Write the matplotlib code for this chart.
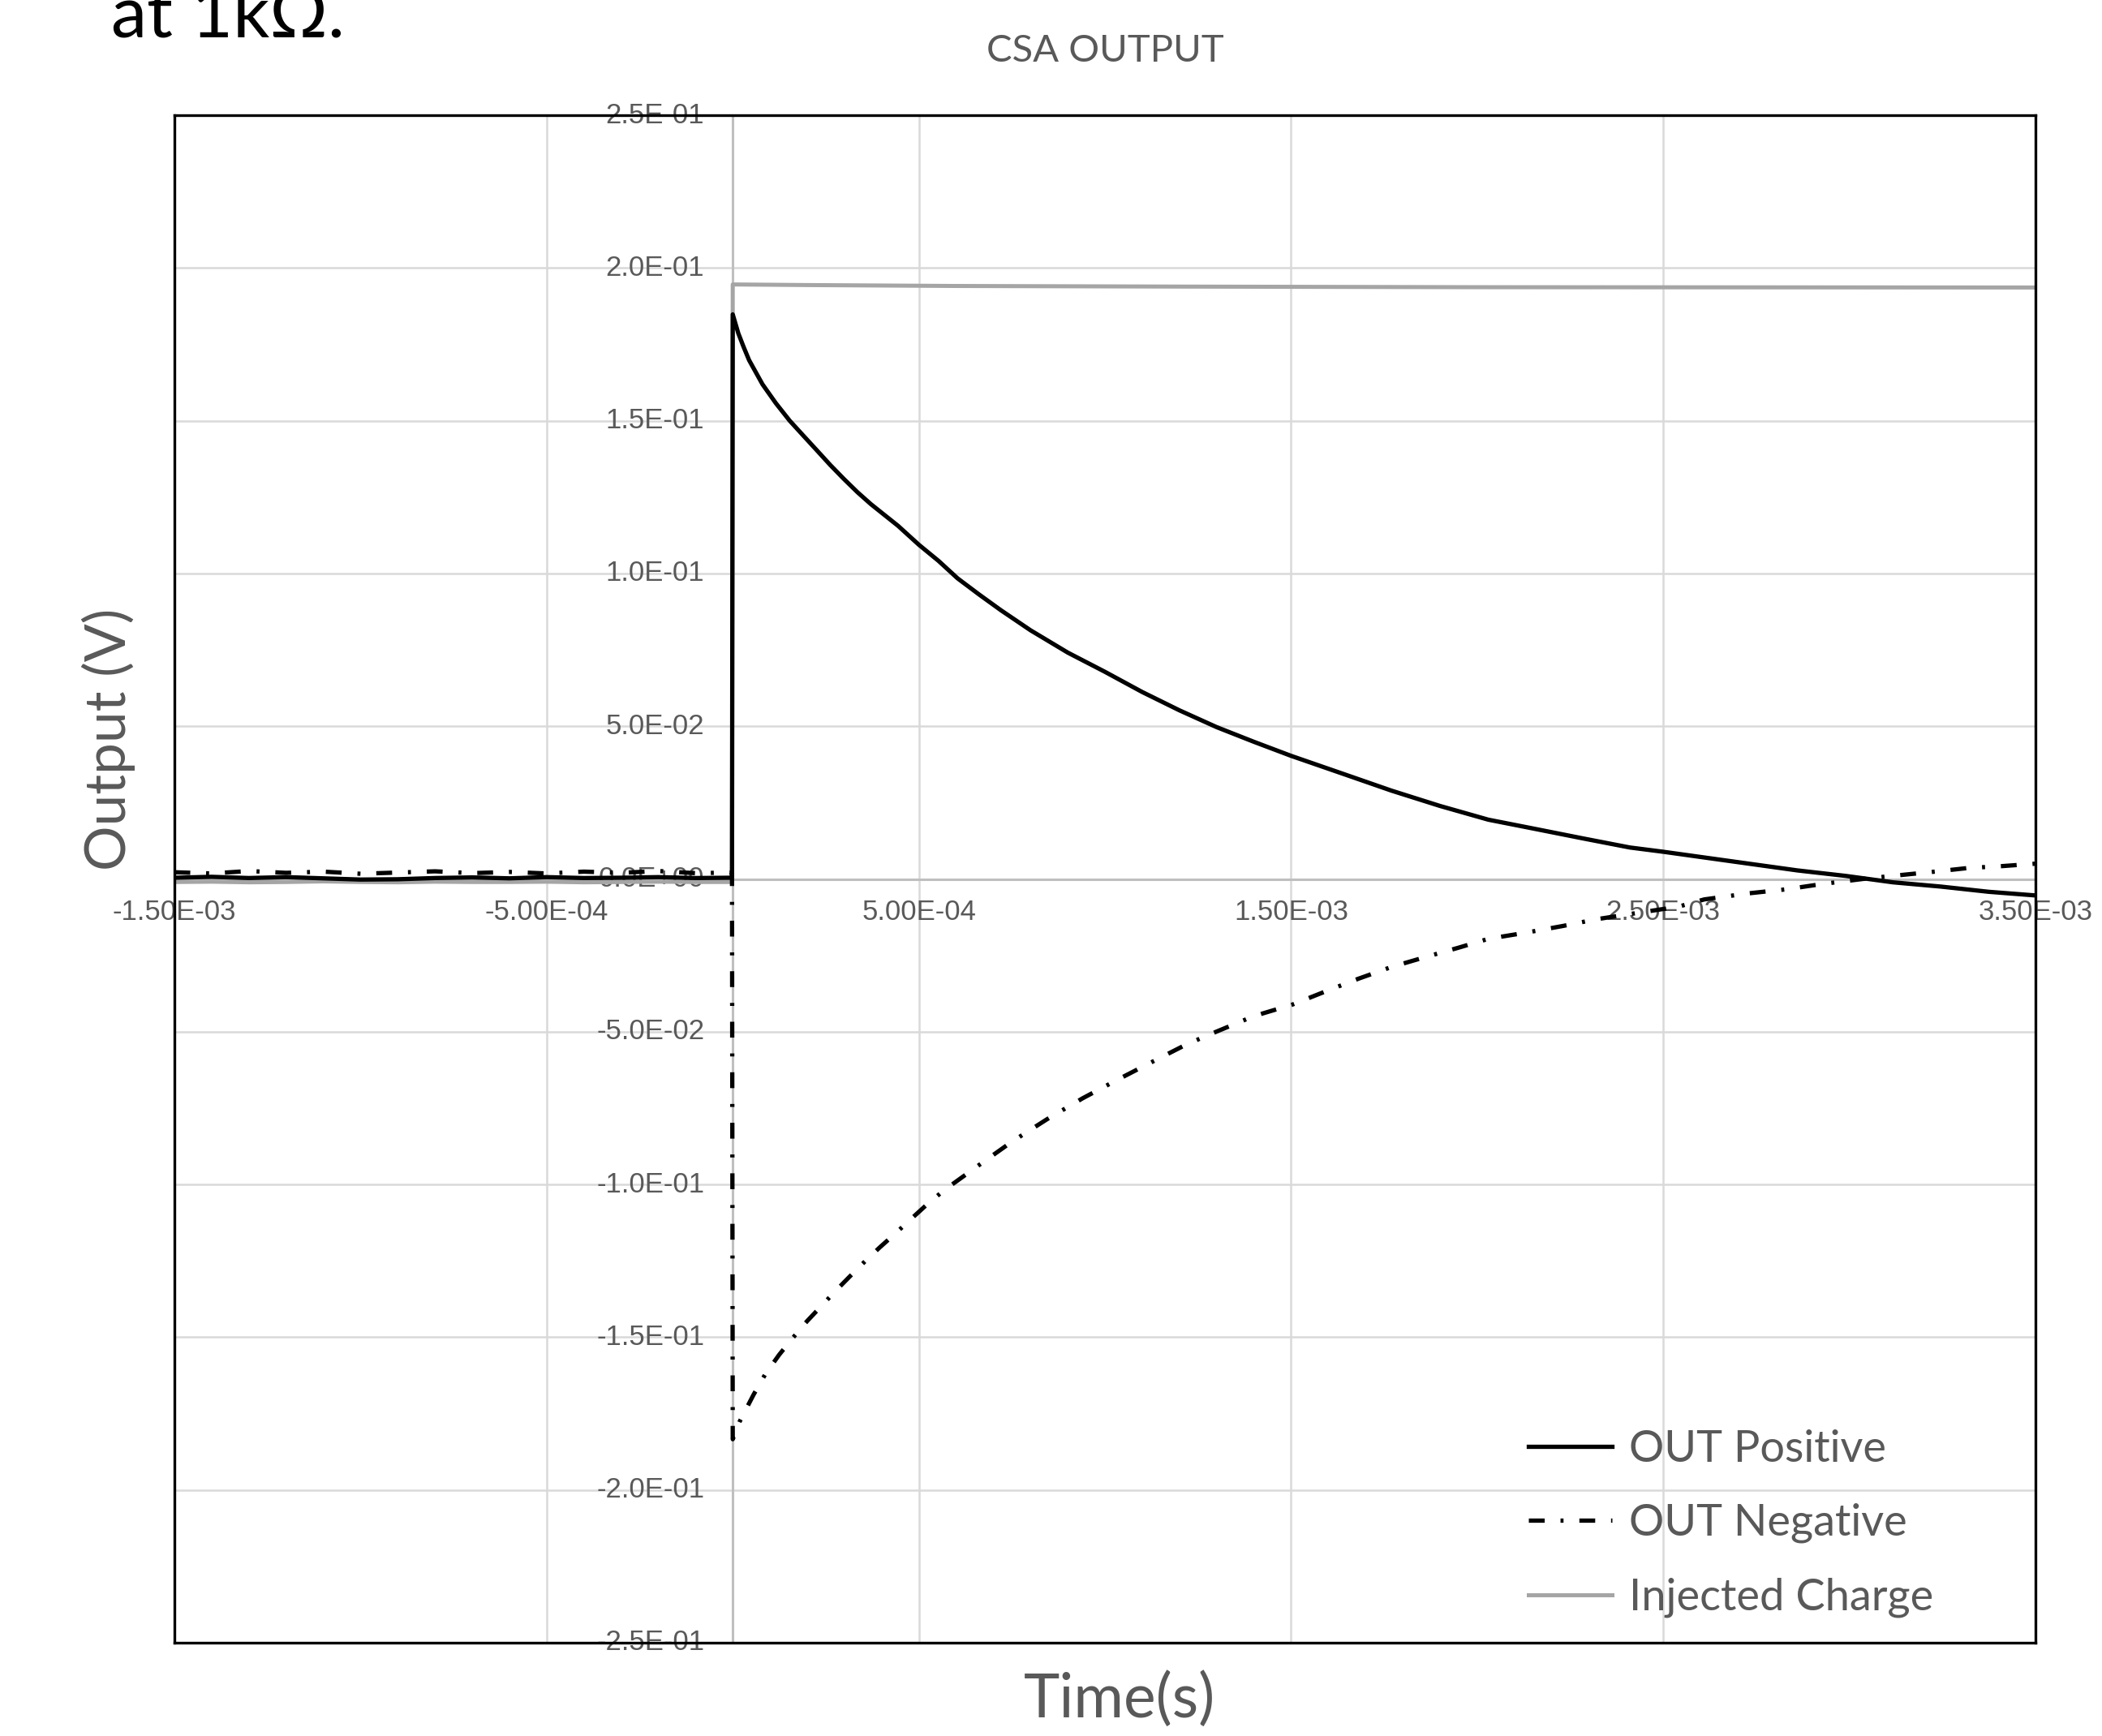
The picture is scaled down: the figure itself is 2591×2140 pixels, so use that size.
import matplotlib
matplotlib.use("Agg")
import matplotlib.pyplot as plt
from matplotlib.transforms import offset_copy

# values (time in s, output in V)
pre_t = [-1.5e-3, -1.4e-3, -1.3e-3, -1.2e-3, -1.1e-3, -1.0e-3, -9e-4, -8e-4,
         -7e-4, -6e-4, -5e-4, -4e-4, -3e-4, -2e-4, -1e-4, -2e-6]
pos_pre = [0.0004, 0.0007, 0.0003, 0.0006, 0.0002, -0.0002, -0.0001, 0.0003,
           0.0005, 0.0002, 0.0006, 0.0003, 0.0004, 0.0006, 0.0003, 0.0004]
neg_pre = [0.0022, 0.0018, 0.0026, 0.0020, 0.0024, 0.0017, 0.0021, 0.0025,
           0.0019, 0.0023, 0.0018, 0.0024, 0.0020, 0.0026, 0.0019, 0.0021]
chg_pre = [-0.0010, -0.0009, -0.0011, -0.0010, -0.0008, -0.0010, -0.0011, -0.0009,
           -0.0010, -0.0010, -0.0009, -0.0011, -0.0010, -0.0009, -0.0010, -0.0010]

pos_t = [0, 1.5e-5, 2.9e-5, 4.4e-5, 8e-5, 1.16e-4, 1.53e-4, 1.89e-4, 2.26e-4,
         2.62e-4, 2.98e-4, 3.35e-4, 3.71e-4, 4.08e-4, 4.44e-4, 5e-4, 5.53e-4,
         6.04e-4, 6.62e-4, 7.2e-4, 7.6e-4, 8e-4, 9e-4, 1.0e-3, 1.1e-3, 1.2e-3,
         1.3e-3, 1.4e-3, 1.5e-3, 1.64e-3, 1.77e-3, 1.9e-3, 2.03e-3, 2.155e-3,
         2.283e-3, 2.41e-3, 2.5e-3, 2.6e-3, 2.73e-3, 2.86e-3, 2.99e-3, 3.117e-3,
         3.246e-3, 3.374e-3, 3.5e-3]
pos_v = [0.1848, 0.1786, 0.1742, 0.1698, 0.1619, 0.1557, 0.1500, 0.1452, 0.1403,
         0.1355, 0.1310, 0.1266, 0.1227, 0.1191, 0.1156, 0.1094, 0.1041, 0.0984,
         0.0931, 0.0880, 0.0847, 0.0814, 0.0741, 0.0678, 0.0612, 0.0552, 0.0497,
         0.0449, 0.0403, 0.0344, 0.0289, 0.0239, 0.0194, 0.0164, 0.0133, 0.0103,
         0.0089, 0.0072, 0.0050, 0.0028, 0.0010, -0.0011, -0.0025, -0.0042, -0.0054]

neg_t = [0, 1.9e-5, 5.6e-5, 8.8e-5, 1.25e-4, 1.63e-4, 2.0e-4, 2.38e-4, 2.75e-4,
         3.13e-4, 3.55e-4, 3.95e-4, 4.4e-4, 4.8e-4, 5.25e-4, 5.7e-4, 6.6e-4,
         7.5e-4, 8.45e-4, 9.4e-4, 1.034e-3, 1.128e-3, 1.22e-3, 1.303e-3, 1.4e-3,
         1.504e-3, 1.597e-3, 1.68e-3, 1.77e-3, 1.86e-3, 1.95e-3, 2.03e-3, 2.13e-3,
         2.23e-3, 2.32e-3, 2.41e-3, 2.54e-3, 2.61e-3, 2.73e-3, 2.83e-3, 2.93e-3,
         3.05e-3, 3.14e-3, 3.23e-3, 3.32e-3, 3.41e-3, 3.5e-3]
neg_v = [-0.1834, -0.1775, -0.1688, -0.1620, -0.1557, -0.1500, -0.1447, -0.1398,
         -0.1350, -0.1303, -0.1252, -0.1206, -0.1157, -0.1112, -0.1062, -0.1017,
         -0.0938, -0.0860, -0.0786, -0.0718, -0.0657, -0.0598, -0.0541, -0.0498,
         -0.0449, -0.0411, -0.0366, -0.0327, -0.0288, -0.0256, -0.0225, -0.0196,
         -0.0176, -0.0154, -0.0132, -0.0115, -0.0091, -0.0067, -0.0047, -0.0034,
         -0.0016, 0.0002, 0.0013, 0.0024, 0.0036, 0.0042, 0.0050]

chg_t = [0, 2e-4, 6e-4, 1.2e-3, 2.0e-3, 3.5e-3]
chg_v = [0.1946, 0.1944, 0.1941, 0.1939, 0.1937, 0.1936]

x_ticks = [-1.5e-3, -5e-4, 5e-4, 1.5e-3, 2.5e-3, 3.5e-3]
y_ticks = [-0.25, -0.20, -0.15, -0.10, -0.05, 0.0, 0.05, 0.10, 0.15, 0.20, 0.25]

TXT = '#595959'
fig = plt.figure(figsize=(25.91, 21.40), dpi=100)
ax = fig.add_axes([215 / 2591, 1 - 2025 / 2140, (2509 - 215) / 2591, (2025 - 142) / 2140])
ax.set_xlim(-1.5e-3, 3.5e-3)
ax.set_ylim(-0.25, 0.25)
ax.set_xticks(x_ticks)
ax.set_yticks(y_ticks)
ax.tick_params(length=0, labelbottom=False, labelleft=False)
ax.grid(color='#d9d9d9', lw=1.8, zorder=0)
ax.set_axisbelow(True)
for s in ax.spines.values():
    s.set_linewidth(2.4)
    s.set_color('black')
    s.set_zorder(5)
ax.axhline(0, color='#bfbfbf', lw=2.2, zorder=1)
ax.axvline(0, color='#bfbfbf', lw=2.2, zorder=1)

tick_font = ['Liberation Sans Narrow', 'Liberation Sans', 'DejaVu Sans']
ytr = offset_copy(ax.transData, fig=fig, x=-35, y=0, units='dots')
for v in y_ticks:
    ax.text(0, v, f"{v:.1E}", transform=ytr, ha='right', va='center',
            fontsize=25, color=TXT, family=tick_font, zorder=2)
xtr = offset_copy(ax.transData, fig=fig, x=0, y=-41, units='dots')
for v in x_ticks:
    ax.text(v, 0, f"{v:.2E}", transform=xtr, ha='center', va='center',
            fontsize=25, color=TXT, family=tick_font, zorder=2, clip_on=False)

ax.plot(pre_t + chg_t, chg_pre + chg_v, color='#a5a5a5', lw=3.6, zorder=3,
        label='Injected Charge')
ax.plot(pre_t + neg_t, neg_pre + neg_v, color='black', lw=3.8, zorder=4,
        dashes=(3.7, 3.7, 0.7, 3.7), label='OUT Negative')
ax.plot(pre_t + pos_t, pos_pre + pos_v, color='black', lw=3.8, zorder=4,
        label='OUT Positive')

h, l = ax.get_legend_handles_labels()
order = [2, 1, 0]
leg = fig.legend([h[i] for i in order], [l[i] for i in order],
                 loc='center left', bbox_to_anchor=(1884 / 2591, 1 - 1878 / 2140),
                 frameon=False, handlelength=1.9, handletextpad=0.38,
                 labelspacing=0.78, borderpad=0, borderaxespad=0,
                 prop={'family': ['Lato', 'DejaVu Sans'], 'size': 39})
for t in leg.get_texts():
    t.set_color(TXT)

fig.text(0.5 * (215 + 2509) / 2591, 1 - 63 / 2140, 'CSA OUTPUT', ha='center', va='center',
         fontsize=34, color=TXT, family=['Lato', 'DejaVu Sans'])
fig.text(0.0515, 0.574, 'Output (V)', rotation=90, ha='center', va='center',
         fontsize=50, color=TXT, family=['Lato', 'DejaVu Sans'])
fig.text(1380 / 2591, 0.021, 'Time(s)', ha='center', va='center',
         fontsize=54, color=TXT, family=['Lato', 'DejaVu Sans'])
fig.text(137 / 2591, 1 - 45 / 2140, 'at 1kΩ.', ha='left', va='baseline',
         fontsize=64, color='black', family=['Lato', 'DejaVu Sans'])

fig.savefig('out.png', dpi=100)
